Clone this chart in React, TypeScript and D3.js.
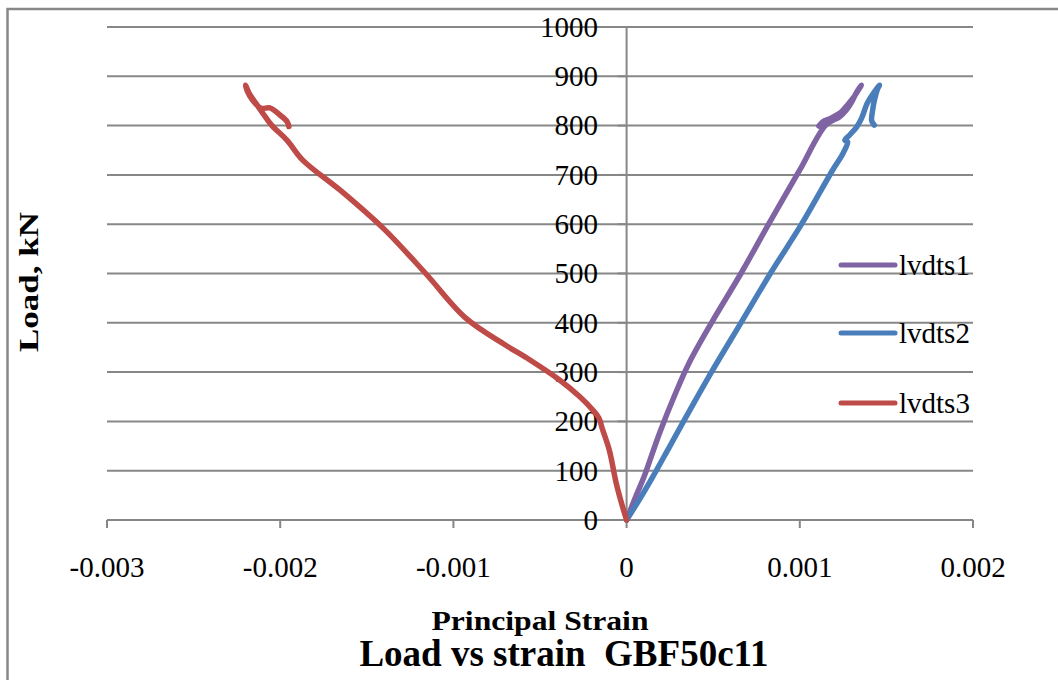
import * as d3 from "d3"

// strain / load readings per gauge
const s1Strain = [0, 0.00005, 0.0001, 0.00019, 0.00028, 0.00036, 0.00049, 0.00066, 0.00082, 0.001, 0.00115, 0.00123, 0.00127, 0.0013, 0.00133, 0.001355, 0.00132, 0.00128, 0.00124, 0.00118, 0.00113, 0.00111]
const s1Load = [0, 45, 87, 176, 255, 318, 400, 500, 600, 710, 801, 818, 832, 848, 869, 882, 862, 844, 828, 815, 807, 799]

const s2Strain = [0, 0.00008, 0.00015, 0.00025, 0.000375, 0.00049, 0.00066, 0.00083, 0.00101, 0.00119, 0.00125, 0.001276, 0.00126, 0.001288, 0.001328, 0.001357, 0.00139, 0.00143, 0.00146, 0.00145, 0.00143, 0.00142, 0.001415, 0.00143]
const s2Load = [0, 45, 87, 150, 229, 300, 400, 500, 600, 710, 744, 767, 770, 781, 797, 815, 846, 868, 882, 875, 850, 830, 810, 801]

const s3Strain = [0, -0.00003, -0.00006, -0.0001, -0.00014, -0.00016, -0.0002, -0.00027, -0.000387, -0.00056, -0.0007, -0.00093, -0.00116, -0.0014, -0.00164, -0.00187, -0.00196, -0.00205, -0.0021, -0.00214, -0.00218, -0.0022, -0.00219, -0.00216, -0.00211, -0.00206, -0.002, -0.00196, -0.00195]
const s3Load = [0, 35, 75, 142, 185, 207, 225, 250, 284, 325, 355, 410, 500, 590, 665, 730, 770, 801, 825, 845, 866, 882, 870, 852, 835, 836, 821, 808, 798]

const seriesNames = ["lvdts1", "lvdts2", "lvdts3"]
const seriesColors = ["#7F63A2", "#4A7EBB", "#BE4B48"]
const xTicks = [-0.003, -0.002, -0.001, 0, 0.001, 0.002]
const xTickLabels = ["-0.003", "-0.002", "-0.001", "0", "0.001", "0.002"]
const yTicks = [0, 100, 200, 300, 400, 500, 600, 700, 800, 900, 1000]

const W = 1058
const H = 680
const serif = "'Liberation Serif', 'Times New Roman', serif"
const grid = "#878787"

export default function App() {
  const x = d3.scaleLinear().domain([-0.003, 0.002]).range([107, 973])
  const y = d3.scaleLinear().domain([0, 1000]).range([520, 27])

  const series = [
    s1Strain.map((s, i) => [s, s1Load[i]] as [number, number]),
    s2Strain.map((s, i) => [s, s2Load[i]] as [number, number]),
    s3Strain.map((s, i) => [s, s3Load[i]] as [number, number]),
  ]

  const line = d3
    .line<[number, number]>()
    .x((d) => x(d[0]))
    .y((d) => y(d[1]))
    .curve(d3.curveCatmullRom.alpha(0.5))

  const legendY = [265, 333, 403]

  return (
    <div style={{ position: "fixed", left: 0, top: 0, width: W, height: H, background: "#fff" }}>
      <svg width={W} height={H} style={{ display: "block" }}>
        <rect x={7.5} y={9} width={1200} height={800} fill="#fff" stroke="#888" strokeWidth={2.5} />

        {/* horizontal gridlines */}
        {yTicks.map((t) => (
          <line key={t} x1={x(-0.003)} x2={x(0.002)} y1={y(t)} y2={y(t)} stroke={grid} strokeWidth={2} />
        ))}

        {/* y axis */}
        <line x1={x(0)} x2={x(0)} y1={y(1000)} y2={y(0)} stroke={grid} strokeWidth={2} />
        {yTicks.map((t) => (
          <line key={"yt" + t} x1={x(0) - 9} x2={x(0)} y1={y(t)} y2={y(t)} stroke={grid} strokeWidth={2} />
        ))}
        {yTicks.map((t) => (
          <text key={"yl" + t} x={598} y={y(t)} dy="0.34em" textAnchor="end" fontFamily={serif} fontSize={29} fill="#000">
            {t}
          </text>
        ))}

        {/* x axis */}
        {xTicks.map((t) => (
          <line key={"xt" + t} x1={x(t)} x2={x(t)} y1={y(0)} y2={y(0) + 8} stroke={grid} strokeWidth={2} />
        ))}
        {xTicks.map((t, i) => (
          <text key={"xl" + t} x={x(t)} y={577} textAnchor="middle" fontFamily={serif} fontSize={29} fill="#000">
            {xTickLabels[i]}
          </text>
        ))}

        {/* series */}
        {series.map((d, i) => (
          <path key={seriesNames[i]} d={line(d) || ""} fill="none" stroke={seriesColors[i]} strokeWidth={5.5} strokeLinecap="round" strokeLinejoin="round" />
        ))}

        {/* legend */}
        {seriesNames.map((n, i) => (
          <g key={"lg" + n}>
            <line x1={841} x2={895} y1={legendY[i]} y2={legendY[i]} stroke={seriesColors[i]} strokeWidth={5} strokeLinecap="round" />
            <text x={899} y={legendY[i] + 10} fontFamily={serif} fontSize={29} fill="#000">
              {n}
            </text>
          </g>
        ))}

        {/* titles */}
        <text x={540} y={630} textAnchor="middle" fontFamily={serif} fontWeight="bold" fontSize={28} textLength={217} lengthAdjust="spacingAndGlyphs">
          Principal Strain
        </text>
        <text x={564} y={666} textAnchor="middle" fontFamily={serif} fontWeight="bold" fontSize={37} style={{ whiteSpace: "pre" }}>
          {"Load vs strain  GBF50c11"}
        </text>
        <text
          transform="translate(38,282) rotate(-90)"
          textAnchor="middle"
          fontFamily={serif}
          fontWeight="bold"
          fontSize={28}
          textLength={140}
          lengthAdjust="spacingAndGlyphs"
        >
          Load, kN
        </text>
      </svg>
    </div>
  )
}
